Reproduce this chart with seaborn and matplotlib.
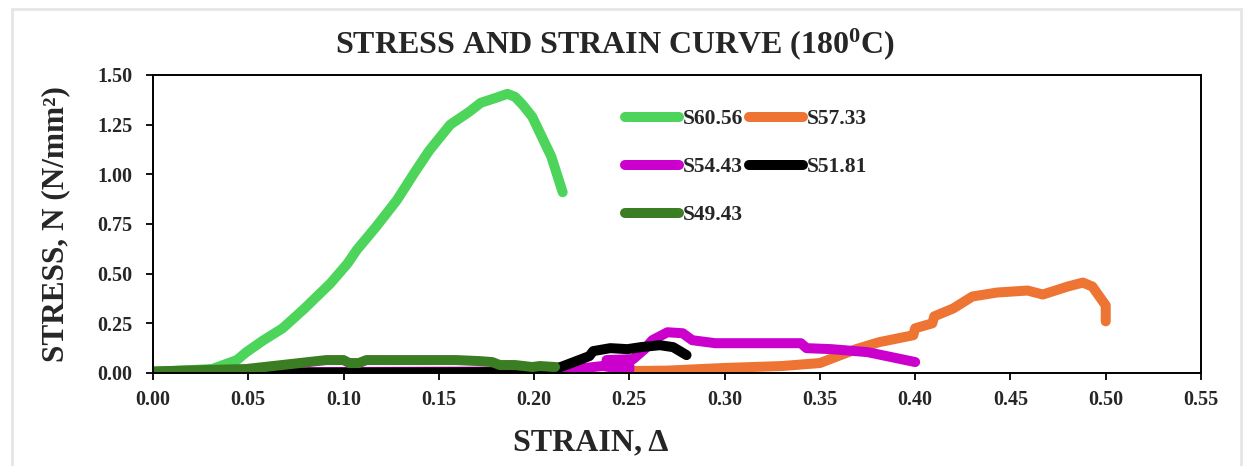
import numpy as np
import pandas as pd
import matplotlib
matplotlib.use("Agg")
import matplotlib.pyplot as plt
import seaborn as sns
from matplotlib.patches import Rectangle

# ---- data ----
series_names = ["S60.56", "S57.33", "S54.43", "S51.81", "S49.43"]
series_colors = ["#4DD45B", "#ED7433", "#CC00CC", "#000000", "#3B7D23"]

s6056_strain = [0.000, 0.031, 0.044, 0.049, 0.058, 0.068, 0.079, 0.093, 0.102, 0.107,
                0.117, 0.128, 0.137, 0.145, 0.156, 0.166, 0.172, 0.180, 0.186, 0.190,
                0.194, 0.199, 0.205, 0.209, 0.215]
s6056_stress = [0.005, 0.020, 0.065, 0.105, 0.165, 0.225, 0.320, 0.450, 0.550, 0.620,
                0.735, 0.870, 1.005, 1.120, 1.250, 1.315, 1.360, 1.385, 1.405, 1.390,
                1.350, 1.290, 1.170, 1.090, 0.910]

s5733_strain = [0.252, 0.270, 0.299, 0.330, 0.350, 0.369, 0.381, 0.399, 0.400, 0.409,
                0.410, 0.420, 0.430, 0.443, 0.459, 0.467, 0.480, 0.488, 0.493, 0.500,
                0.500]
s5733_stress = [0.010, 0.012, 0.025, 0.035, 0.050, 0.120, 0.155, 0.190, 0.225, 0.250,
                0.285, 0.325, 0.385, 0.405, 0.415, 0.395, 0.435, 0.455, 0.435, 0.340,
                0.260]

s5443_strain = [0.000, 0.100, 0.210, 0.236, 0.250, 0.250, 0.238, 0.252, 0.258, 0.262,
                0.270, 0.278, 0.283, 0.295, 0.340, 0.343, 0.356, 0.375, 0.400]
s5443_stress = [0.005, 0.005, 0.008, 0.035, 0.015, 0.040, 0.065, 0.070, 0.120, 0.165,
                0.205, 0.200, 0.165, 0.150, 0.150, 0.125, 0.120, 0.105, 0.055]

s5181_strain = [0.000, 0.050, 0.100, 0.150, 0.200, 0.214, 0.229, 0.231, 0.240, 0.249,
                0.256, 0.266, 0.273, 0.280]
s5181_stress = [0.000, 0.000, 0.002, 0.003, 0.005, 0.030, 0.085, 0.110, 0.125, 0.120,
                0.130, 0.140, 0.130, 0.090]

s4943_strain = [0.000, 0.049, 0.091, 0.100, 0.103, 0.108, 0.112, 0.159, 0.171, 0.178,
                0.182, 0.190, 0.199, 0.203, 0.211]
s4943_stress = [0.008, 0.020, 0.065, 0.065, 0.050, 0.050, 0.065, 0.065, 0.060, 0.055,
                0.040, 0.040, 0.030, 0.035, 0.030]

x_ticks = [0.00, 0.05, 0.10, 0.15, 0.20, 0.25, 0.30, 0.35, 0.40, 0.45, 0.50, 0.55]
y_ticks = [0.00, 0.25, 0.50, 0.75, 1.00, 1.25, 1.50]

frames = []
for name, xs, ys in zip(series_names,
                        [s6056_strain, s5733_strain, s5443_strain, s5181_strain, s4943_strain],
                        [s6056_stress, s5733_stress, s5443_stress, s5181_stress, s4943_stress]):
    frames.append(pd.DataFrame({"strain": xs, "stress": ys, "series": name,
                                "order": np.arange(len(xs))}))
df = pd.concat(frames, ignore_index=True)

# ---- style ----
sns.set_theme(style="ticks")
plt.rcParams["font.family"] = ["Liberation Serif", "DejaVu Serif"]
plt.rcParams["font.weight"] = "bold"
plt.rcParams["mathtext.fontset"] = "custom"
plt.rcParams["mathtext.rm"] = "Liberation Serif:bold"
plt.rcParams["mathtext.bf"] = "Liberation Serif:bold"
plt.rcParams["mathtext.it"] = "Liberation Serif:bold"

LW = 7.2

fig = plt.figure(figsize=(12.5, 4.66), dpi=100)
fig.patch.set_facecolor("white")
ax = fig.add_axes([0.1224, 0.1996, 0.9608 - 0.1224, 0.8391 - 0.1996])

sns.lineplot(data=df, x="strain", y="stress", hue="series", hue_order=series_names,
             palette=dict(zip(series_names, series_colors)), sort=False,
             estimator=None, units="series", linewidth=LW, ax=ax, legend=True)
for ln in ax.lines:
    ln.set_solid_capstyle("round")
    ln.set_solid_joinstyle("round")

ax.set_xlim(0, 0.55)
ax.set_ylim(0, 1.5)
ax.set_xticks(x_ticks)
ax.set_yticks(y_ticks)
ax.set_xticklabels([f"{v:.2f}" for v in x_ticks], fontsize=14.5, fontweight="bold")
ax.set_yticklabels([f"{v:.2f}" for v in y_ticks], fontsize=14.5, fontweight="bold")
ax.tick_params(axis="y", direction="out", length=5, width=1.3, color="black", pad=10)
ax.tick_params(axis="x", direction="out", length=5, width=1.3, color="black", pad=7)
for sp in ax.spines.values():
    sp.set_visible(True)
    sp.set_color("black")
    sp.set_linewidth(1.4)

ax.set_xlabel("STRAIN, Δ", fontsize=23, fontweight="bold")
ax.set_ylabel("STRESS, N (N/mm²)", fontsize=22.5, fontweight="bold")
ax.xaxis.set_label_coords(0.418, -0.185)
ax.yaxis.set_label_coords(-0.079, 0.5)

fig.text(0.492, 0.905, r"STRESS AND STRAIN CURVE (180$^{0}$C)", ha="center", va="center",
         fontsize=23, fontweight="bold")

handles, labels = ax.get_legend_handles_labels()
order = [0, 2, 4, 1, 3]
leg = ax.legend([handles[i] for i in order], [labels[i] for i in order], ncol=2,
                frameon=False, loc="upper left",
                bbox_to_anchor=(0.432, 0.95), handlelength=2.5,
                handletextpad=0.2, columnspacing=0.25, labelspacing=1.3,
                prop={"weight": "bold", "size": 15.5})
for h in leg.get_lines():
    h.set_linewidth(LW)
    h.set_solid_capstyle("round")

# light grey frame around the figure
fig.patches.append(Rectangle((12 / 1250, -0.02), (1241 - 12) / 1250, 1 - 9 / 466 + 0.02,
                             transform=fig.transFigure, fill=False,
                             edgecolor="#E6E6E6", linewidth=2))

fig.savefig("out.png", dpi=100)
